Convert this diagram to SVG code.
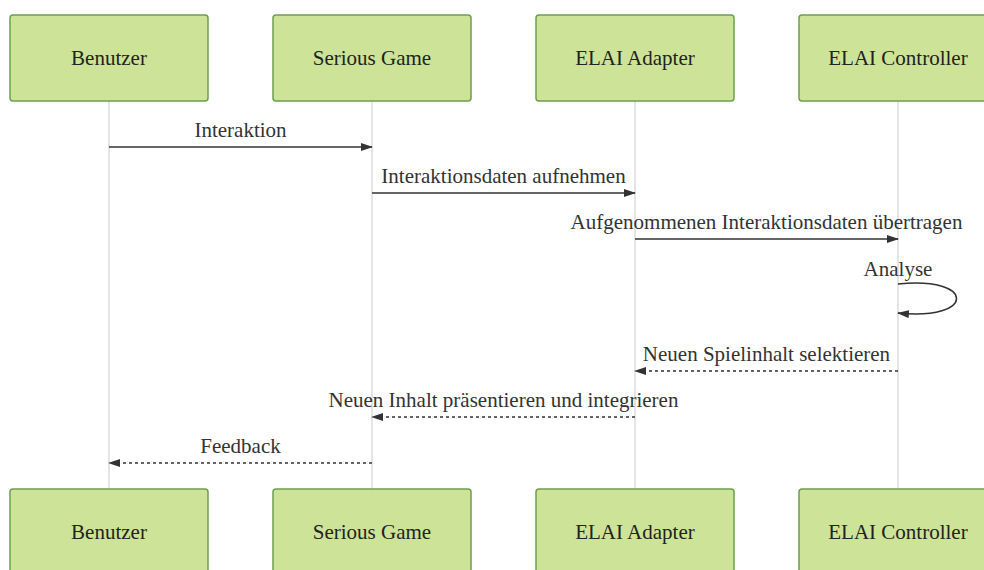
<svg xmlns="http://www.w3.org/2000/svg" width="984" height="570" viewBox="0 0 984 570">
  <style>
    .actor rect { fill: #cde498; stroke: #6e9e4f; stroke-width: 1.5; }
    .actor text { fill: #222; text-anchor: middle; }
    .lifeline { stroke: #d4d4d4; stroke-width: 1.2; }
    .msg { stroke: #333; stroke-width: 1.5; fill: none; }
    .dashed { stroke-dasharray: 3 3; }
    .label { fill: #333; text-anchor: middle; }
    text { font-family: 'Liberation Serif', 'Noto Serif', 'DejaVu Serif', serif; font-size: 21px; }
  </style>
  <defs>
    <marker id="arrowhead" viewBox="0 0 12 8" refX="11" refY="4" markerWidth="12" markerHeight="8" markerUnits="userSpaceOnUse" orient="auto">
      <path d="M0,0 L12,4 L0,8 z" fill="#333"/>
    </marker>
  </defs>
  <rect width="984" height="570" fill="#fff"/>

  <!-- lifelines -->
  <g id="lifelines">
    <line class="lifeline" x1="109" y1="100" x2="109" y2="489"/>
    <line class="lifeline" x1="372" y1="100" x2="372" y2="489"/>
    <line class="lifeline" x1="635" y1="100" x2="635" y2="489"/>
    <line class="lifeline" x1="898" y1="100" x2="898" y2="489"/>
  </g>

  <!-- participants, top row -->
  <g id="benutzer-top" class="actor"><rect x="10" y="15" width="198" height="86" rx="3"/><text x="109" y="65">Benutzer</text></g>
  <g id="serious-game-top" class="actor"><rect x="273" y="15" width="198" height="86" rx="3"/><text x="372" y="65">Serious Game</text></g>
  <g id="elai-adapter-top" class="actor"><rect x="536" y="15" width="198" height="86" rx="3"/><text x="635" y="65">ELAI Adapter</text></g>
  <g id="elai-controller-top" class="actor"><rect x="799" y="15" width="198" height="86" rx="3"/><text x="898" y="65">ELAI Controller</text></g>

  <!-- participants, bottom row -->
  <g id="benutzer-bottom" class="actor"><rect x="10" y="489" width="198" height="86" rx="3"/><text x="109" y="539">Benutzer</text></g>
  <g id="serious-game-bottom" class="actor"><rect x="273" y="489" width="198" height="86" rx="3"/><text x="372" y="539">Serious Game</text></g>
  <g id="elai-adapter-bottom" class="actor"><rect x="536" y="489" width="198" height="86" rx="3"/><text x="635" y="539">ELAI Adapter</text></g>
  <g id="elai-controller-bottom" class="actor"><rect x="799" y="489" width="198" height="86" rx="3"/><text x="898" y="539">ELAI Controller</text></g>

  <!-- messages -->
  <g id="connectors">
    <line class="msg" x1="109" y1="147" x2="372" y2="147" marker-end="url(#arrowhead)"/>
    <text class="label" x="240.5" y="137">Interaktion</text>

    <line class="msg" x1="372" y1="193" x2="635" y2="193" marker-end="url(#arrowhead)"/>
    <text class="label" x="503.5" y="183">Interaktionsdaten aufnehmen</text>

    <line class="msg" x1="635" y1="239" x2="898" y2="239" marker-end="url(#arrowhead)"/>
    <text class="label" x="766.5" y="229">Aufgenommenen Interaktionsdaten übertragen</text>

    <path class="msg" d="M898,284 C976,276 976,321 898,313" marker-end="url(#arrowhead)"/>
    <text class="label" x="898" y="276">Analyse</text>

    <line class="msg dashed" x1="898" y1="371" x2="635" y2="371" marker-end="url(#arrowhead)"/>
    <text class="label" x="766.5" y="361">Neuen Spielinhalt selektieren</text>

    <line class="msg dashed" x1="635" y1="417" x2="372" y2="417" marker-end="url(#arrowhead)"/>
    <text class="label" x="503.5" y="407">Neuen Inhalt präsentieren und integrieren</text>

    <line class="msg dashed" x1="372" y1="463" x2="109" y2="463" marker-end="url(#arrowhead)"/>
    <text class="label" x="240.5" y="453">Feedback</text>
  </g>
</svg>
